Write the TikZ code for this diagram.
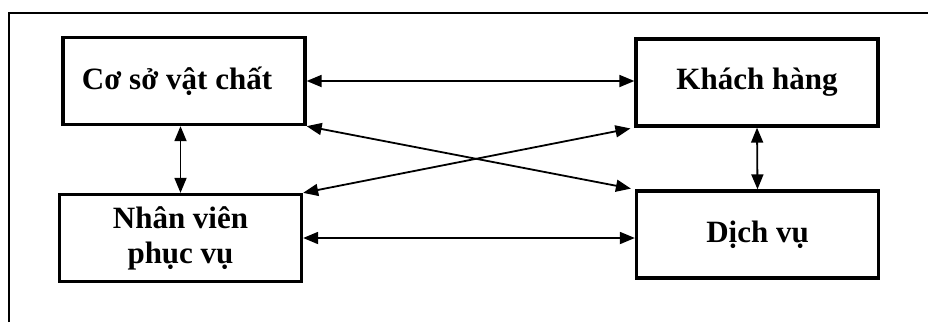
\documentclass[tikz,border=0pt]{standalone}
\usepackage{fontspec}
\setmainfont{Liberation Serif}
\usetikzlibrary{arrows.meta,positioning,calc}
\tikzset{
  >={Triangle[length=15pt,width=12pt]},
  box/.style={draw=black,line width=3.3pt,minimum width=#1,minimum height=87pt,
    inner sep=0pt,align=center,font=\fontsize{31}{35}\selectfont\bfseries},
  box/.default=242pt,
  flow/.style={<->,line width=1.8pt},
  frame/.style={line width=1.3pt},
}
\begin{document}
\begin{tikzpicture}[x=1pt,y=-1pt]
  \useasboundingbox (0,0) rectangle (928,322);
  \draw[frame] (9,322) |- (928,13);
  % the four boxes
  \node[box] (csvc) at (184,81) {Cơ sở vật chất\hspace*{14pt}};
  \node[box] (nvpv) at (180.5,238) {Nhân viên\\phục vụ};
  \node[box] (kh) at (757,82.5) {Khách hàng};
  \node[box] (dv) at (757.5,234.5) {Dịch vụ};
  % links
  \draw[flow] (csvc.east) -- (csvc.east -| kh.west);
  \draw[flow] (nvpv.east) -- (nvpv.east -| dv.west);
  \draw[flow,shorten >=4pt] (csvc.south east) -- (dv.north west);
  \draw[flow,shorten >=4pt] (nvpv.north east) -- (kh.south west);
  \draw[flow] (nvpv.north) -- (nvpv.north |- csvc.south);
  \draw[flow] (kh.south) -- (dv.north);
\end{tikzpicture}
\end{document}
